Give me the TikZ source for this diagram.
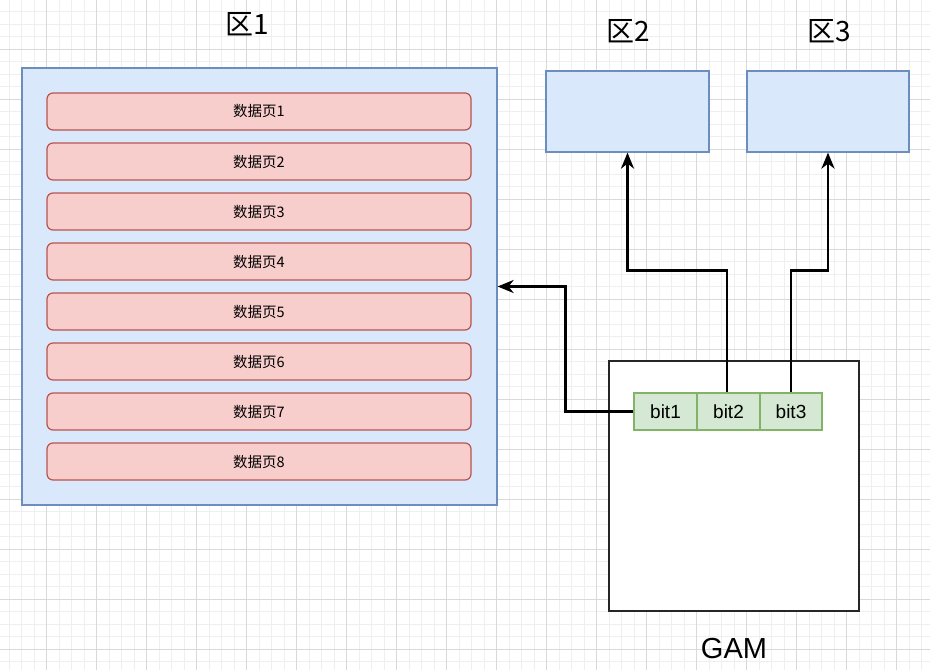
\documentclass[tikz,border=0pt]{standalone}
\usepackage{fontspec}
\setmainfont{Liberation Sans}
\newfontfamily\cjk{Noto Sans CJK SC}
\usetikzlibrary{arrows.meta}
\definecolor{bluefill}{HTML}{DAE8FC}
\definecolor{bluestroke}{HTML}{6C8EBF}
\definecolor{redfill}{HTML}{F8CECC}
\definecolor{redstroke}{HTML}{B85450}
\definecolor{greenfill}{HTML}{D5E8D4}
\definecolor{greenstroke}{HTML}{82B366}
\definecolor{gridminor}{HTML}{EFEFEF}
\definecolor{gridmajor}{HTML}{D9D9D9}
\tikzset{
  zonebox/.style={draw=bluestroke, fill=bluefill, line width=1.2pt, inner sep=0pt},
  pagebox/.style={draw=redstroke, fill=redfill, line width=1.2pt, rounded corners=6pt,
    minimum width=424pt, minimum height=37pt, inner sep=0pt, font=\cjk\fontsize{14.5}{16}\selectfont},
  bitbox/.style={draw=greenstroke, fill=greenfill, line width=1.2pt,
    minimum width=63pt, minimum height=37pt, inner sep=0pt, font=\fontsize{19}{21}\selectfont},
  titletext/.style={font=\cjk\fontsize{28}{30}\selectfont, inner sep=0pt},
  arr/.style={line width=2.8pt, -{Stealth[length=16pt,width=13pt,inset=5pt]}}
}
\begin{document}
\begin{tikzpicture}[x=1pt,y=-1pt]
\useasboundingbox (0,0) rectangle (930,670);
% grid
\foreach \i in {0,...,74} {\draw[gridminor, line width=0.8pt] (9.2+12.5*\i,0) -- (9.2+12.5*\i,670);}
\foreach \i in {0,...,53} {\draw[gridminor, line width=0.8pt] (0,11.8+12.5*\i) -- (930,11.8+12.5*\i);}
\foreach \i in {-1,...,18} {\draw[gridmajor, line width=0.8pt] (46.7+50*\i,0) -- (46.7+50*\i,670);}
\foreach \i in {-1,...,13} {\draw[gridmajor, line width=0.8pt] (0,49.3+50*\i) -- (930,49.3+50*\i);}
% zone 1
\node[zonebox, minimum width=475pt, minimum height=437pt] (z1) at (259.5,286.5) {};
\node[titletext] (t1) at (247,24) {区1};
\foreach \k in {1,...,8} {
  \node[pagebox] (p\k) at (259,111.5+50*\k-50) {数据页\k};
}
% zone 2, 3
\node[zonebox, minimum width=163pt, minimum height=81pt] (z2) at (627.5,111.5) {};
\node[titletext] (t2) at (628,31) {区2};
\node[zonebox, minimum width=162pt, minimum height=81pt] (z3) at (828,111.5) {};
\node[titletext] (t3) at (829,31) {区3};
% GAM
\node[draw=black!85, fill=white, line width=1.2pt, minimum width=250pt, minimum height=250pt, inner sep=0pt] (gam) at (734,486) {};
\node[font=\fontsize{29}{31}\selectfont, inner sep=0pt] (gaml) at (734,649) {GAM};
\node[bitbox] (b1) at (665.5,411.5) {\raisebox{-3pt}{bit1}};
\node[bitbox] (b2) at (728.5,411.5) {bit2};
\node[bitbox, minimum width=62pt] (b3) at (791,411.5) {bit3};
% connectors
\draw[arr] (b1.west) -- ++(-68,0) |- (z1.east);
\draw[arr] ([xshift=-1.5pt]b2.north) -- ++(0,-122) -| (z2.south);
\draw[arr] (b3.north) -- ++(0,-122) -| (z3.south);
\end{tikzpicture}
\end{document}
